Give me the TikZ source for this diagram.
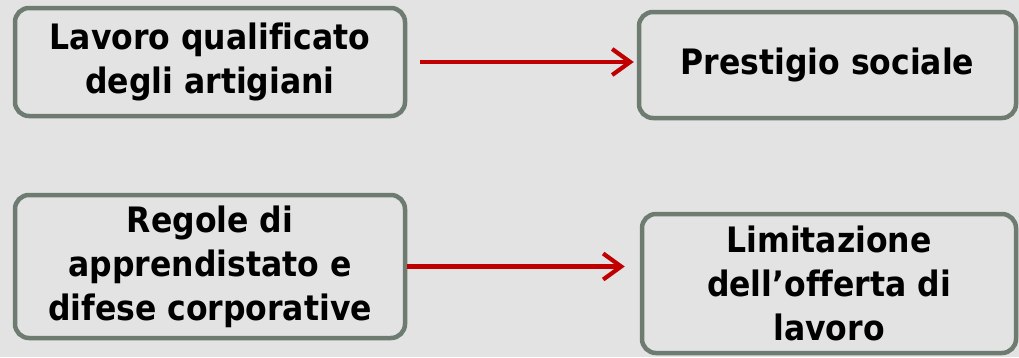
\documentclass[tikz,border=0pt]{standalone}
\usepackage{fontspec}
\newfontfamily\boxfont[Ligatures=NoCommon]{DejaVu Sans Condensed Bold}
\usetikzlibrary{arrows.meta}
\definecolor{pagebg}{HTML}{E3E3E3}
\definecolor{boxedge}{HTML}{6D7B71}
\definecolor{linkred}{HTML}{C00000}
\tikzset{
  topic/.style={draw=boxedge, line width=4.5pt, rounded corners=14pt,
    fill=pagebg, align=center, inner sep=0pt,
    font=\boxfont\fontsize{35}{44}\selectfont, text=black},
  link/.style={draw=linkred, line width=4.2pt,
    -{Straight Barb[length=18pt,width=26pt]}}
}
\begin{document}
\begin{tikzpicture}[x=1pt,y=-1pt]
  \fill[pagebg] (0,0) rectangle (1019,357);
  \useasboundingbox (0,0) rectangle (1019,357);

  \node[topic, minimum width=390pt, minimum height=108pt] (b1) at (210,62)
    {Lavoro qualificato\\degli artigiani};
  \node[topic, minimum width=377pt, minimum height=106pt] (b2) at (827.5,65)
    {Prestigio sociale};
  \node[topic, minimum width=390pt, minimum height=143pt] (b3) at (210,266.5)
    {Regole di\\apprendistato e\\difese corporative};
  \node[topic, minimum width=374pt, minimum height=139pt] (b4) at (829,283.5)
    {Limitazione\\dell’offerta di\\lavoro};

  \draw[link, shorten <=13pt, shorten >=3pt] (b1.east) -- (b1.east -| b2.west);
  \draw[link, shorten >=15pt] (b3.east) -- (b3.east -| b4.west);
\end{tikzpicture}
\end{document}
